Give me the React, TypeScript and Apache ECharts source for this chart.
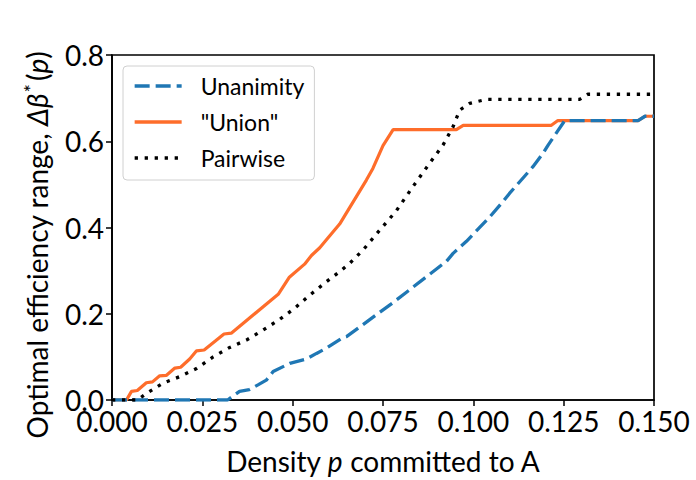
import React, { useEffect, useRef } from "react";
import * as echarts from "echarts";

const xTicks = [0, 0.025, 0.05, 0.075, 0.1, 0.125, 0.15];
const yTicks = [0, 0.2, 0.4, 0.6, 0.8];

const seriesNames = ["Unanimity", '"Union"', "Pairwise"];

const unanimity: [number, number][] = [
  [0, 0], [0.032, 0], [0.0353, 0.02], [0.038, 0.024], [0.0404, 0.035], [0.0427, 0.046],
  [0.0446, 0.066], [0.0492, 0.085], [0.0538, 0.095], [0.0566, 0.108], [0.0593, 0.12],
  [0.0639, 0.145], [0.0649, 0.147], [0.0778, 0.226], [0.0815, 0.25], [0.0926, 0.322],
  [0.0944, 0.34], [0.0981, 0.368], [0.1046, 0.425], [0.1082, 0.46], [0.11, 0.479],
  [0.1165, 0.541], [0.1193, 0.572], [0.1207, 0.591], [0.1253, 0.648], [0.1456, 0.648],
  [0.1475, 0.658], [0.15, 0.658],
];

const union: [number, number][] = [
  [0, 0], [0.004, 0], [0.0054, 0.02], [0.007, 0.022], [0.0095, 0.04], [0.0112, 0.042],
  [0.0132, 0.056], [0.015, 0.057], [0.0174, 0.074], [0.019, 0.076], [0.0215, 0.095],
  [0.0234, 0.114], [0.0255, 0.116], [0.031, 0.153], [0.033, 0.155], [0.046, 0.245],
  [0.049, 0.284], [0.0533, 0.315], [0.0552, 0.335], [0.0575, 0.353], [0.0594, 0.372],
  [0.0612, 0.39], [0.063, 0.408], [0.0704, 0.51], [0.0722, 0.537], [0.075, 0.59],
  [0.0778, 0.627], [0.0953, 0.627], [0.0972, 0.637], [0.1216, 0.637], [0.1234, 0.648],
  [0.1456, 0.648], [0.1475, 0.658], [0.15, 0.658],
];

const pairwise: [number, number][] = [
  [0, 0], [0.007, 0], [0.0095, 0.015], [0.0141, 0.039], [0.0187, 0.054], [0.0234, 0.073],
  [0.028, 0.1], [0.0326, 0.122], [0.0372, 0.139], [0.0418, 0.162], [0.0464, 0.187],
  [0.0506, 0.213], [0.0547, 0.243], [0.0593, 0.274], [0.0635, 0.301], [0.0658, 0.317],
  [0.0695, 0.348], [0.0732, 0.385], [0.0787, 0.439], [0.0833, 0.495], [0.0879, 0.549],
  [0.0916, 0.591], [0.0944, 0.634], [0.0962, 0.672], [0.099, 0.688], [0.1036, 0.697],
  [0.1294, 0.697], [0.1317, 0.709], [0.15, 0.709],
];

const FONT = "Lato, 'DejaVu Sans', sans-serif";

export default function App() {
  const ref = useRef<HTMLDivElement>(null);
  useEffect(() => {
    if (!ref.current) return;
    const chart = echarts.init(ref.current, undefined, { renderer: "svg" });
    const axisCommon = {
      axisLine: { show: true, lineStyle: { color: "#000", width: 1.7 } },
      axisTick: { show: true, length: 6, lineStyle: { color: "#000", width: 1.5 } },
      splitLine: { show: false },
    };
    chart.setOption({
      animation: false,
      backgroundColor: "#fff",
      grid: {
        left: 112, right: 42, top: 55, bottom: 80,
        show: true, borderColor: "#000", borderWidth: 1.7, backgroundColor: "transparent",
      },
      xAxis: {
        type: "value", min: xTicks[0], max: xTicks[xTicks.length - 1], interval: 0.025,
        ...axisCommon,
        axisLabel: {
          formatter: (v: number) => v.toFixed(3), fontFamily: FONT, fontSize: 28,
          color: "#000", margin: 7, showMinLabel: true, showMaxLabel: true,
        },
      },
      yAxis: {
        type: "value", min: yTicks[0], max: yTicks[yTicks.length - 1], interval: 0.2,
        ...axisCommon,
        axisLabel: {
          formatter: (v: number) => v.toFixed(1), fontFamily: FONT, fontSize: 28,
          color: "#000", margin: 8,
        },
      },
      legend: {
        orient: "vertical", left: 123, top: 66,
        padding: [8, 10, 10, 10],
        itemWidth: 47, itemHeight: 14, itemGap: 12,
        itemStyle: { opacity: 0 },
        lineStyle: { width: 3.3 },
        backgroundColor: "#fff", borderColor: "#d0d0d0", borderWidth: 1, borderRadius: 4,
        textStyle: { fontFamily: FONT, fontSize: 23, color: "#000", lineHeight: 24, padding: [0, 0, 0, 14] },
        data: seriesNames,
      },
      graphic: [
        {
          type: "text", x: 383, y: 461,
          style: {
            text: "{n|Density }{i|p}{n| committed to A}",
            align: "center", verticalAlign: "middle",
            rich: {
              n: { fontFamily: FONT, fontSize: 28, fill: "#000" },
              i: { fontFamily: FONT, fontSize: 28, fontStyle: "italic", fill: "#000" },
            },
          },
        },
        {
          type: "text", x: 37, y: 245, rotation: Math.PI / 2,
          style: {
            text: "{n|Optimal efficiency range, }{i|Δβ}{s|*}{n|(}{i|p}{n|)}",
            align: "center", verticalAlign: "middle",
            rich: {
              n: { fontFamily: FONT, fontSize: 28, fill: "#000", lineHeight: 34 },
              i: { fontFamily: FONT, fontSize: 28, fontStyle: "italic", fill: "#000", lineHeight: 34 },
              s: { fontFamily: FONT, fontSize: 20, fill: "#000", verticalAlign: "top", lineHeight: 20, padding: [0, 3, 0, 1] },
            },
          },
        },
      ],
      series: [
        {
          name: seriesNames[0], type: "line", data: unanimity, showSymbol: false, symbol: "none",
          lineStyle: { color: "#1f77b4", width: 3.3, type: [15, 6], cap: "butt" },
          itemStyle: { color: "#1f77b4" }, z: 3,
        },
        {
          name: seriesNames[1], type: "line", data: union, showSymbol: false, symbol: "none",
          lineStyle: { color: "#fe6d2b", width: 3.2, type: "solid" },
          itemStyle: { color: "#fe6d2b" }, z: 2,
        },
        {
          name: seriesNames[2], type: "line", data: pairwise, showSymbol: false, symbol: "none",
          lineStyle: { color: "#000", width: 3.3, type: [3.3, 6.7], cap: "butt" },
          itemStyle: { color: "#000" }, z: 4,
        },
      ],
    });
    return () => chart.dispose();
  }, []);
  return <div ref={ref} style={{ width: 696, height: 480, position: "absolute", left: 0, top: 0 }} />;
}
